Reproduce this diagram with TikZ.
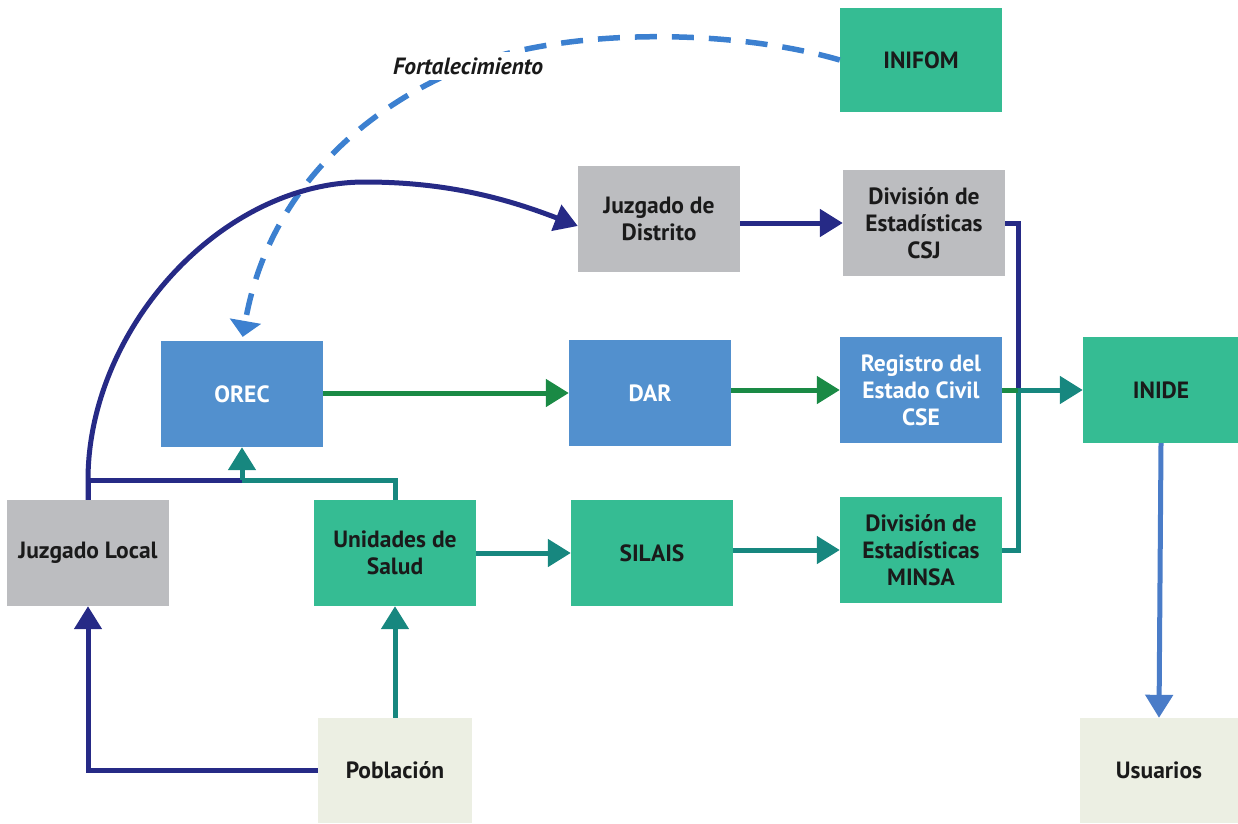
\documentclass[tikz,border=0pt]{standalone}
\usepackage{fontspec}
\setmainfont{PT Sans}
\usetikzlibrary{arrows.meta}
\definecolor{boxgray}{HTML}{BCBDC0}
\definecolor{boxblue}{HTML}{5290CE}
\definecolor{boxgreen}{HTML}{35BC93}
\definecolor{boxlight}{HTML}{ECEFE3}
\definecolor{cnavy}{HTML}{262A86}
\definecolor{cteal}{HTML}{17877F}
\definecolor{cgreen}{HTML}{1A8A45}
\definecolor{cblue}{HTML}{4A7CC8}
\definecolor{cdash}{HTML}{3C80D0}
\definecolor{txt}{HTML}{1A1A1A}
\tikzset{
  box/.style={rectangle, minimum width=162pt, minimum height=106pt, inner sep=0pt, align=center,
    font=\bfseries\fontsize{23.5}{27}\selectfont, text=txt},
  graybox/.style={box, fill=boxgray},
  bluebox/.style={box, fill=boxblue, text=white},
  greenbox/.style={box, fill=boxgreen},
  lightbox/.style={box, fill=boxlight},
  conn/.style={line width=5pt},
  tip/.style={-{Triangle[length=23pt,width=27pt]}},
}
\begin{document}
\begin{tikzpicture}[x=1pt,y=-1pt]
\useasboundingbox (0,0) rectangle (1238,823);
% nodes
\node[greenbox, minimum height=104pt] (inifom) at (921,60) {INIFOM};
\node[graybox] (jdist) at (659,219) {Juzgado de\\Distrito};
\node[graybox] (dcsj) at (924,223) {División de\\Estadísticas\\CSJ};
\node[bluebox] (orec) at (242,394) {OREC};
\node[bluebox] (dar) at (650,393) {DAR};
\node[bluebox] (reg) at (921,390) {Registro del\\Estado Civil\\CSE};
\node[greenbox, minimum width=156pt] (inide) at (1161,390) {INIDE};
\node[graybox] (jlocal) at (88,553) {Juzgado Local};
\node[greenbox] (unid) at (395,553) {Unidades de\\Salud};
\node[greenbox] (silais) at (652,553) {SILAIS};
\node[greenbox] (minsa) at (921,550) {División de\\Estadísticas\\MINSA};
\node[lightbox, minimum width=154pt, minimum height=105pt] (pobl) at (395,770.5) {Población};
\node[lightbox, minimum width=158pt, minimum height=105pt] (usu) at (1159,770.5) {Usuarios};
% junction coordinates
\coordinate (jn) at (242,480);
\coordinate (jr) at (1018,390);
% dashed Fortalecimiento
\draw[line width=5.5pt, cdash, dash pattern=on 22pt off 15pt, -{Triangle[length=16pt,width=31pt]}, shorten >=4pt]
  (inifom.west) .. controls (730,28) and (565,28) .. (468,66)
  node[fill=white, inner sep=5pt, text=txt, font=\bfseries\itshape\fontsize{23.5}{26}\selectfont] {Fortalecimiento}
  .. controls (380,100) and (270,180) .. (orec.north);
% curve Juzgado Local -> Juzgado de Distrito
\draw[conn, cnavy, tip] (jlocal.north) -- (88,480) .. controls (88,330) and (220,182) .. (365,182)
  .. controls (450,182) and (510,200) .. ([yshift=-7pt]jdist.west);
% joins to OREC
\draw[conn, cnavy] (jlocal.north) |- (jn);
\draw[conn, cteal] (unid.north) |- (jn);
\draw[conn, cteal, tip] (jn) -- (orec.south);
% Población
\draw[conn, cnavy, tip] (pobl.west) -| (jlocal.south);
\draw[conn, cteal, tip] (pobl.north) -- (unid.south);
% rows
\draw[conn, cgreen, tip] (orec.east |- dar.west) -- (dar.west);
\draw[conn, cgreen, tip] (dar.east |- reg.west) -- (reg.west);
\draw[conn, cnavy, tip] (jdist.east |- dcsj.west) -- (dcsj.west);
\draw[conn, cteal, tip] (unid.east) -- (silais.west);
\draw[conn, cteal, tip] (silais.east |- minsa.west) -- (minsa.west);
% right merge
\draw[conn, cnavy] (dcsj.east) -| (jr);
\draw[conn, cteal] (minsa.east) -| (jr);
\draw[conn, cgreen] (reg.east) -- (jr);
\draw[conn, cteal, tip] (jr) -- (inide.west);
\draw[conn, cblue, tip] (inide.south) -- (usu.north);
\end{tikzpicture}
\end{document}
